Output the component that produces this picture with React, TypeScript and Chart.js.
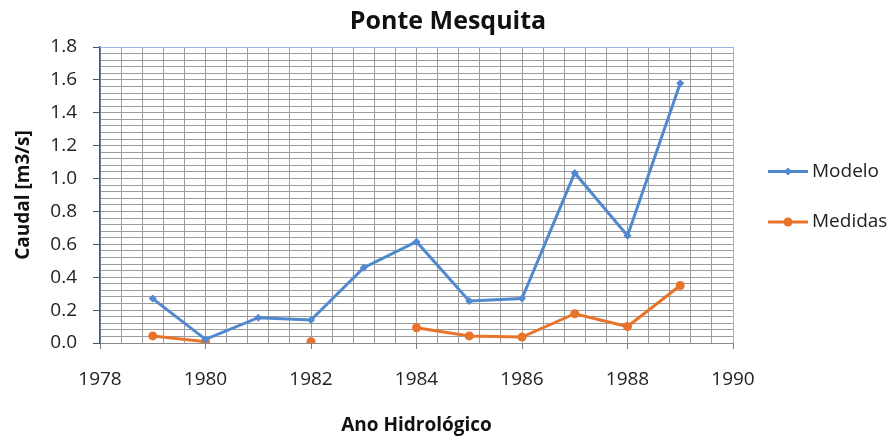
import React, { useEffect, useRef } from 'react';
import { Chart, registerables } from 'chart.js';

Chart.register(...registerables);

const years = [1979, 1980, 1981, 1982, 1983, 1984, 1985, 1986, 1987, 1988, 1989];
const modelo = [0.27, 0.022, 0.154, 0.14, 0.458, 0.616, 0.255, 0.27, 1.034, 0.652, 1.58];
const medidas: (number | null)[] = [0.043, 0.008, null, 0.008, null, 0.093, 0.043, 0.036, 0.178, 0.1, 0.35];
const xMin = 1978;
const xMax = 1990;
const yMin = 0;
const yMax = 1.8;

const FONT = "'Open Sans', 'DejaVu Sans', sans-serif";
const BLUE = '#5089D0';
const ORANGE = '#E8732A';
const GRID = '#9C9C9C';

const isMajorX = (v: number) => Math.abs(v - Math.round(v)) < 1e-6 && Math.round(v) % 2 === 0;
const isMajorY = (v: number) => Math.abs(v / 0.2 - Math.round(v / 0.2)) < 1e-6;

const frameAndLegend = {
  id: 'frameAndLegend',
  beforeDatasetsDraw(chart: any) {
    const { ctx, chartArea: a } = chart;
    ctx.save();
    ctx.strokeStyle = '#95B6E0';
    ctx.lineWidth = 1;
    ctx.beginPath();
    ctx.moveTo(a.left, a.top + 0.5);
    ctx.lineTo(a.right + 0.5, a.top + 0.5);
    ctx.lineTo(a.right + 0.5, a.bottom);
    ctx.stroke();
    ctx.restore();
  },
  afterDraw(chart: any) {
    const { ctx, chartArea: a } = chart;
    const rows = [171.5, 222];
    ctx.save();
    chart.data.datasets.forEach((ds: any, i: number) => {
      const y = rows[i];
      const x0 = a.right + 35;
      const x1 = x0 + 40;
      ctx.strokeStyle = ds.borderColor;
      ctx.lineWidth = 3;
      ctx.beginPath();
      ctx.moveTo(x0, y);
      ctx.lineTo(x1, y);
      ctx.stroke();
      ctx.fillStyle = ds.pointBackgroundColor;
      const cx = (x0 + x1) / 2;
      const r = ds.pointRadius;
      ctx.beginPath();
      if (ds.pointStyle === 'rectRot') {
        ctx.moveTo(cx, y - r);
        ctx.lineTo(cx + r, y);
        ctx.lineTo(cx, y + r);
        ctx.lineTo(cx - r, y);
        ctx.closePath();
      } else {
        ctx.arc(cx, y, r, 0, Math.PI * 2);
      }
      ctx.fill();
      ctx.fillStyle = '#222';
      ctx.font = `19px ${FONT}`;
      ctx.textAlign = 'left';
      ctx.textBaseline = 'middle';
      ctx.fillText(ds.label, x1 + 4, y);
    });
    ctx.restore();
  },
};

export default function App() {
  const ref = useRef<HTMLCanvasElement>(null);
  useEffect(() => {
    const prevMargin = document.body.style.margin;
    document.body.style.margin = '0';
    const chart = new Chart(ref.current!, {
      type: 'line',
      data: {
        datasets: [
          {
            label: 'Modelo',
            data: years.map((x, i) => ({ x, y: modelo[i] })),
            borderColor: BLUE,
            backgroundColor: BLUE,
            pointBackgroundColor: BLUE,
            pointBorderColor: BLUE,
            pointStyle: 'rectRot',
            pointRadius: 4,
            pointBorderWidth: 0,
            borderWidth: 3,
            tension: 0,
          },
          {
            label: 'Medidas',
            data: years.map((x, i) => ({ x, y: medidas[i] })),
            borderColor: ORANGE,
            backgroundColor: ORANGE,
            pointBackgroundColor: ORANGE,
            pointBorderColor: ORANGE,
            pointStyle: 'circle',
            pointRadius: 4.5,
            pointBorderWidth: 0,
            borderWidth: 3,
            tension: 0,
            spanGaps: false,
          },
        ] as any,
      },
      options: {
        animation: false,
        responsive: false,
        maintainAspectRatio: false,
        layout: { padding: 0 },
        plugins: {
          legend: { display: false },
          tooltip: { enabled: false },
          title: {
            display: true,
            text: 'Ponte Mesquita',
            color: '#111',
            font: { family: FONT, size: 25, weight: 'bold', lineHeight: 1.2 },
            padding: { top: 7, bottom: 10 },
          },
        },
        scales: {
          x: {
            type: 'linear',
            min: xMin,
            max: xMax,
            afterFit: (s: any) => { s.height = 94; },
            ticks: {
              stepSize: 0.4,
              autoSkip: false,
              maxRotation: 0,
              padding: 19,
              color: '#222',
              font: { family: FONT, size: 19 },
              callback: (v: any) => (isMajorX(Number(v)) ? String(Math.round(Number(v))) : ''),
            },
            grid: {
              color: GRID,
              lineWidth: 1,
              tickLength: 6,
              tickColor: (c: any) => (isMajorX(c.tick.value) ? '#7F7F7F' : 'rgba(0,0,0,0)'),
            },
            border: { color: '#8A8A8A', width: 1 },
            title: {
              display: true,
              text: 'Ano Hidrológico',
              color: '#111',
              font: { family: FONT, size: 19, weight: 'bold', lineHeight: 1.2 },
              padding: { top: 0, bottom: 0 },
            },
          },
          y: {
            type: 'linear',
            min: yMin,
            max: yMax,
            afterFit: (s: any) => { s.width = 100; },
            ticks: {
              stepSize: 0.04,
              autoSkip: false,
              padding: 16,
              color: '#222',
              font: { family: FONT, size: 19 },
              callback: (v: any) => (isMajorY(Number(v)) ? Number(v).toFixed(1) : ''),
            },
            grid: {
              color: GRID,
              lineWidth: 1,
              tickLength: 7,
              tickColor: (c: any) => (isMajorY(c.tick.value) ? '#3E5A80' : 'rgba(0,0,0,0)'),
            },
            border: { color: '#3E5A80', width: 1.5 },
            title: {
              display: true,
              text: 'Caudal [m3/s]',
              color: '#111',
              font: { family: FONT, size: 19, weight: 'bold', lineHeight: 1.2 },
              padding: { top: 12, bottom: 0 },
            },
          },
          legendSpace: {
            type: 'linear',
            position: 'right',
            min: yMin,
            max: yMax,
            afterFit: (s: any) => { s.width = 163; },
            ticks: { display: false },
            grid: { display: false, drawTicks: false },
            border: { display: false },
          },
        },
      },
      plugins: [frameAndLegend],
    });
    return () => {
      chart.destroy();
      document.body.style.margin = prevMargin;
    };
  }, []);
  return (
    <div style={{ position: 'fixed', left: 0, top: 0, width: 896, height: 437 }}>
      <canvas ref={ref} width={896} height={437} style={{ width: 896, height: 437, display: 'block' }} />
    </div>
  );
}
